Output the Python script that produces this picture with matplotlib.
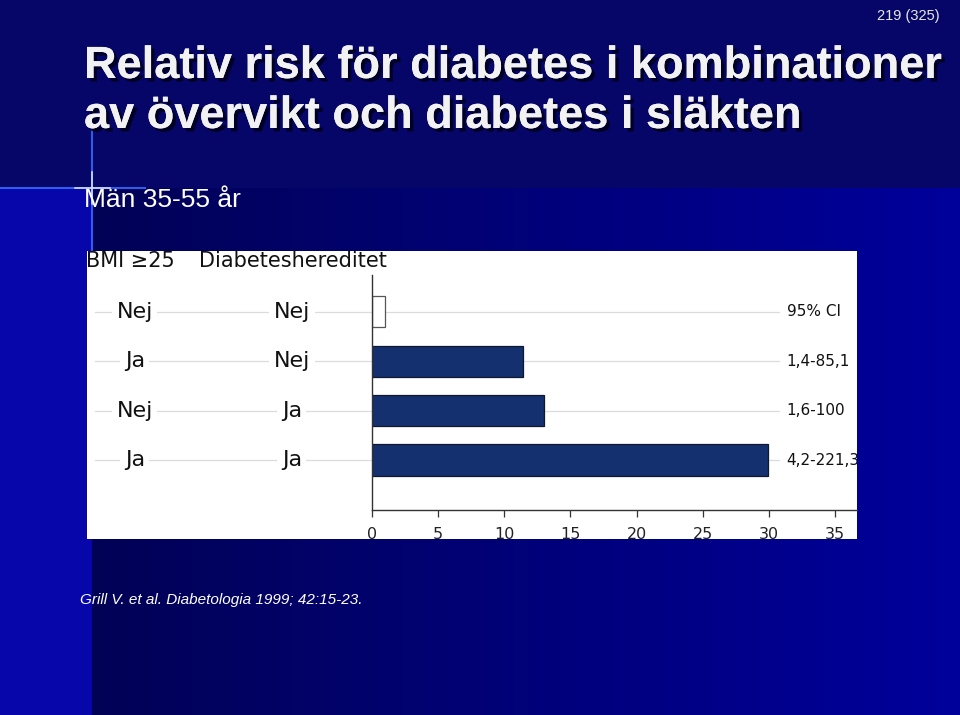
import numpy as np
import matplotlib
matplotlib.use('Agg')
import matplotlib.pyplot as plt
from matplotlib import patheffects
from matplotlib.transforms import blended_transform_factory

# Data
bmi = ['Nej', 'Ja', 'Nej', 'Ja']
hereditet = ['Nej', 'Nej', 'Ja', 'Ja']
rel_risk = [1.0, 11.4, 13.0, 29.9]
ci_labels = ['95% CI', '1,4-85,1', '1,6-100', '4,2-221,3']
x_ticks = [0, 5, 10, 15, 20, 25, 30, 35]

W, H = 960, 715


def fx(px):
    return px / W


def fy(py):
    return 1 - py / H


fig = plt.figure(figsize=(9.6, 7.15), dpi=100)

# background of the slide
bg = fig.add_axes([0, 0, 1, 1])
bg.set_axis_off()
img = np.zeros((H, W, 3))
top = np.array([6, 6, 104]) / 255
dark = np.array([2, 2, 86]) / 255
bright = np.array([0, 0, 156]) / 255
strip = np.array([6, 6, 170]) / 255
t = np.clip((np.arange(W) - 92) / (W - 92), 0, 1)
grad = dark[None, :] * (1 - t[:, None]) + bright[None, :] * t[:, None]
img[:188] = top
img[188:] = grad[None, :, :]
img[188:, :92] = strip
bg.imshow(img, extent=(0, W, H, 0), aspect='auto')
bg.set_xlim(0, W)
bg.set_ylim(H, 0)
# light cross decoration
bg.plot([0, 145], [188, 188], color='#3a6cff', lw=1.5, alpha=0.85)
bg.plot([92, 92], [128, 250], color='#3a6cff', lw=1.5, alpha=0.85)
bg.plot([75, 110], [188, 188], color='#dfe8ff', lw=1.1)
bg.plot([92, 92], [172, 204], color='#dfe8ff', lw=1.1)

# white panel
panel = fig.add_axes([fx(87), fy(539), fx(857) - fx(87), fy(251) - fy(539)])
panel.set_facecolor('white')
panel.set_xticks([])
panel.set_yticks([])
for s in panel.spines.values():
    s.set_visible(False)

# chart
ax = fig.add_axes([fx(372), fy(510), fx(857) - fx(372), fy(275) - fy(510)])
ax.set_facecolor('none')
rows = np.arange(len(rel_risk))
colors = ['white'] + ['#15306e'] * (len(rel_risk) - 1)
edges = ['#555555'] + ['#101830'] * (len(rel_risk) - 1)

ax.set_xlim(0, 36.66)
ax.set_ylim(4.01, -0.74)

# light grid lines through the label area
trans = blended_transform_factory(ax.transAxes, ax.transData)
for r in rows:
    ax.plot([-0.571, 0.84], [r, r], transform=trans, color='#dcdcdc',
            lw=0.9, clip_on=False, zorder=0)

ax.barh(rows, rel_risk, height=0.63, color=colors, edgecolor=edges,
        linewidth=0.9, zorder=2)

lab_font = dict(fontsize=16, color='#111111', family='DejaVu Sans',
                va='center', ha='center', zorder=3,
                bbox=dict(boxstyle='square,pad=0.2', fc='white', ec='none'))
for r, b, h in zip(rows, bmi, hereditet):
    ax.text(-0.489, r, b, transform=trans, clip_on=False, **lab_font)
    ax.text(-0.165, r, h, transform=trans, clip_on=False, **lab_font)

for r, c in zip(rows, ci_labels):
    ax.text(0.855, r, c, transform=trans, fontsize=11, color='#111111',
            va='center', ha='left', clip_on=True, zorder=3)

# header of the label columns
fig.text(fx(86), fy(261), 'BMI \u226525', fontsize=15, color='#111111',
         va='center', ha='left')
fig.text(fx(199), fy(261), 'Diabeteshereditet', fontsize=15,
         color='#111111', va='center', ha='left')

ax.set_xticks(x_ticks)
ax.set_yticks([])
ax.tick_params(axis='x', direction='out', length=5, width=0.9,
               color='#333333', labelsize=11.5, labelcolor='#222222', pad=7)
for s in ['top', 'right']:
    ax.spines[s].set_visible(False)
for s in ['left', 'bottom']:
    ax.spines[s].set_color('#333333')
    ax.spines[s].set_linewidth(1.0)
# tick labels are cut at the lower edge of the white panel
for lbl in ax.get_xticklabels():
    lbl.set_clip_box(panel.bbox)
    lbl.set_clip_on(True)

# slide texts
shadow = [patheffects.withSimplePatchShadow(offset=(2.5, -2.5),
                                            shadow_rgbFace='#000020',
                                            alpha=0.9),
          patheffects.Normal()]
title_font = ['Liberation Sans', 'DejaVu Sans']
fig.text(fx(84), fy(78), 'Relativ risk f\u00f6r diabetes i kombinationer',
         fontsize=32.5, fontweight='bold', family=title_font,
         color='#f2f2f2', ha='left', va='baseline', path_effects=shadow)
fig.text(fx(84), fy(128), 'av \u00f6vervikt och diabetes i sl\u00e4kten',
         fontsize=32.5, fontweight='bold', family=title_font,
         color='#f2f2f2', ha='left', va='baseline', path_effects=shadow)
fig.text(fx(84), fy(207), 'M\u00e4n 35-55 \u00e5r', fontsize=19,
         family=title_font, color='white', ha='left', va='baseline')
fig.text(fx(940), fy(20), '219 (325)', fontsize=10.5, family=title_font,
         color='#e8e8e8', ha='right', va='baseline')
fig.text(fx(80), fy(604), 'Grill V. et al. Diabetologia 1999; 42:15-23.',
         fontsize=11, style='italic', family='Liberation Sans',
         color='white', ha='left', va='baseline')

fig.savefig('out.png', dpi=100)
